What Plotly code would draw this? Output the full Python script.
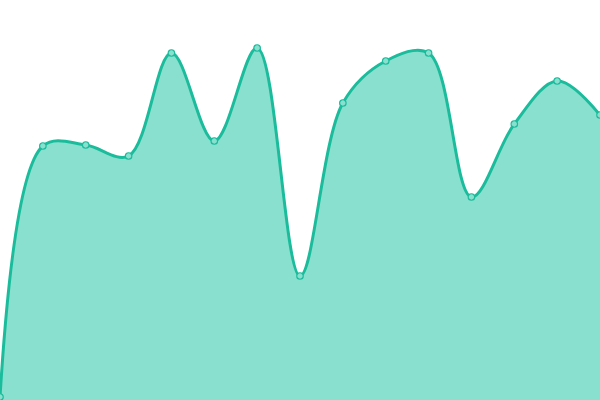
import plotly.graph_objects as go

x_idx = list(range(15))
values = [3, 254, 255, 244, 347, 259, 352, 124, 297, 339, 347, 203, 276, 319, 285]

fig = go.Figure()
fig.add_trace(go.Scatter(
    x=x_idx, y=values, mode="lines+markers",
    line=dict(shape="spline", smoothing=1.0, color="#1abc9c", width=3),
    fill="tozeroy", fillcolor="#89e0cf",
    marker=dict(size=6.5, color="#89e0cf", line=dict(color="#1abc9c", width=1.2)),
    cliponaxis=True,
))
fig.update_layout(
    width=600, height=400, margin=dict(l=0, r=0, t=0, b=0),
    paper_bgcolor="white", plot_bgcolor="white", showlegend=False,
    xaxis=dict(range=[0, 14], visible=False, fixedrange=True),
    yaxis=dict(range=[0, 400], visible=False, fixedrange=True),
)
fig.write_html(
    "out.html",
    config={"displayModeBar": False},
    post_script="document.body.style.margin='0';document.body.style.overflow='hidden';",
)
